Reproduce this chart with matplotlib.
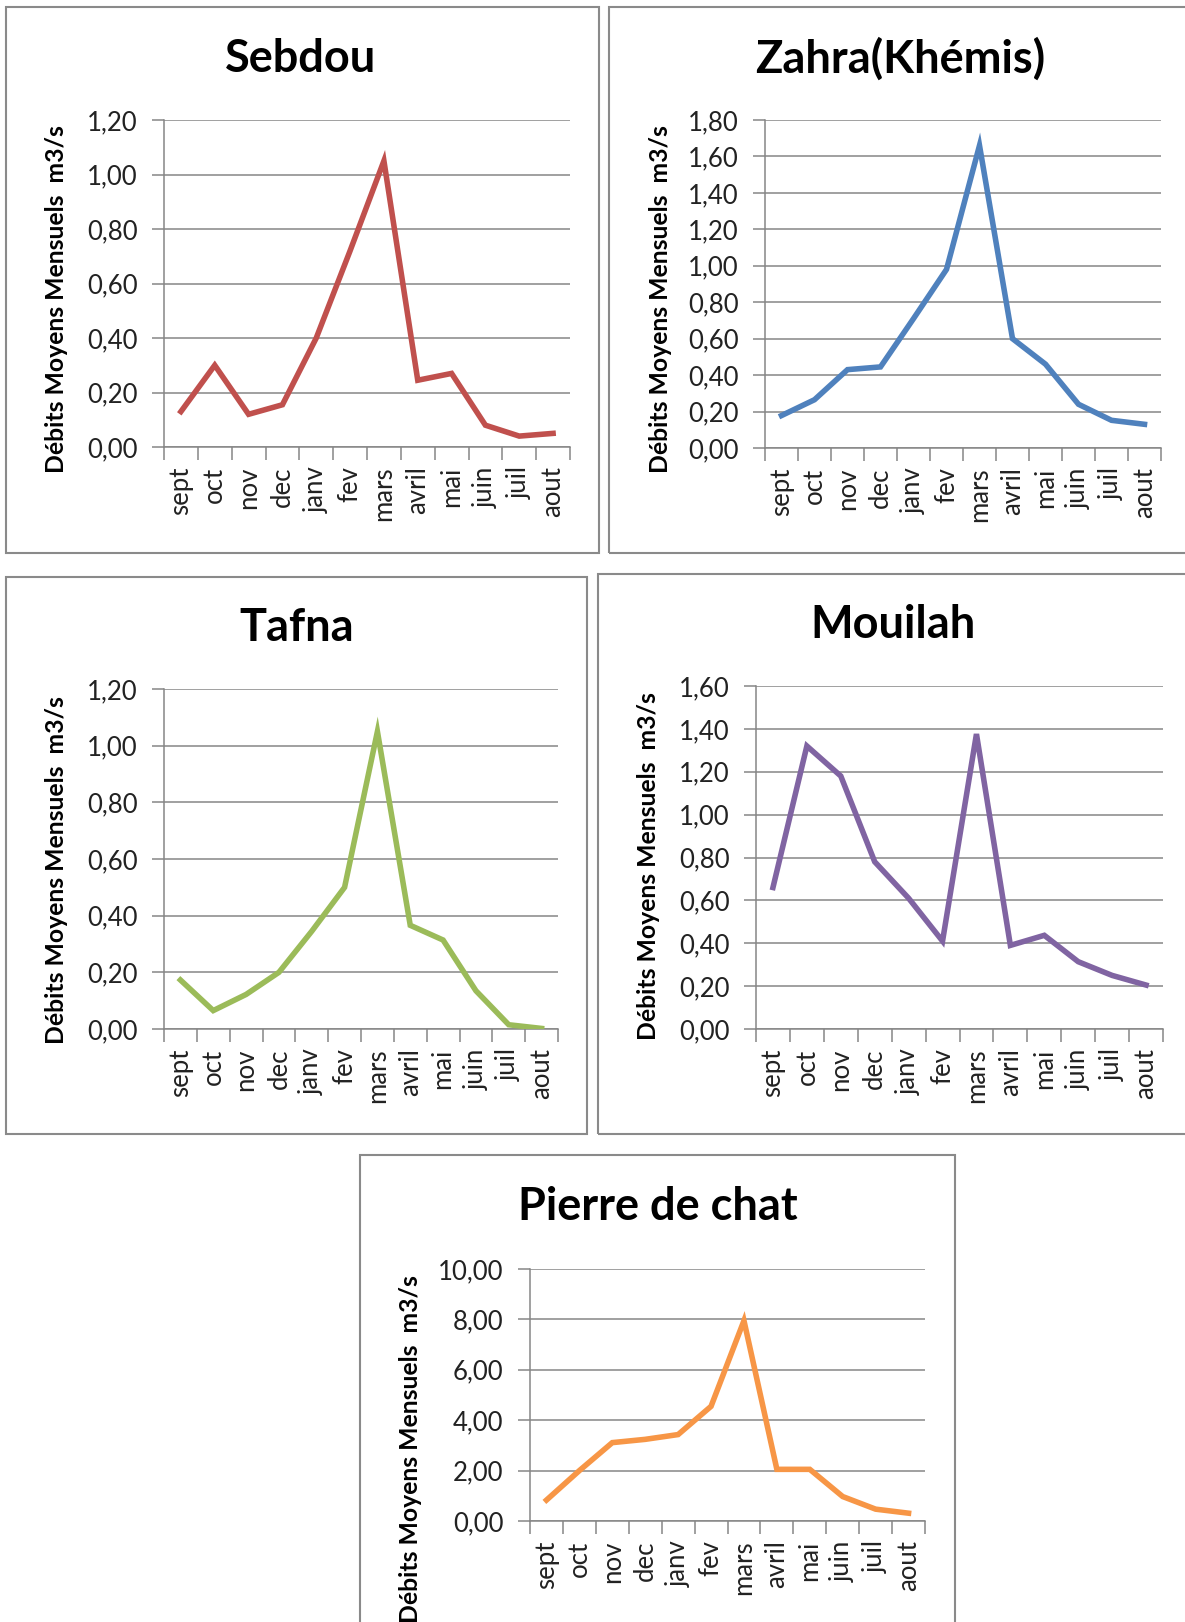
import matplotlib
matplotlib.use("Agg")
import matplotlib.pyplot as plt
from matplotlib.patches import Rectangle
from matplotlib.ticker import FuncFormatter, FixedLocator

plt.rcParams['font.family'] = ['Lato', 'DejaVu Sans']

months = ["sept", "oct", "nov", "dec", "janv", "fev", "mars", "avril", "mai", "juin", "juil", "aout"]

sebdou = [0.13, 0.30, 0.12, 0.155, 0.40, 0.72, 1.05, 0.245, 0.27, 0.08, 0.04, 0.05]
zahra = [0.178, 0.265, 0.43, 0.445, 0.71, 0.98, 1.66, 0.60, 0.46, 0.24, 0.152, 0.13]
tafna = [0.173, 0.065, 0.122, 0.20, 0.345, 0.50, 1.05, 0.366, 0.314, 0.135, 0.015, 0.002]
mouilah = [0.66, 1.32, 1.18, 0.78, 0.61, 0.41, 1.376, 0.39, 0.437, 0.314, 0.25, 0.205]
pierre = [0.83, 2.0, 3.11, 3.24, 3.43, 4.55, 7.95, 2.05, 2.05, 0.97, 0.47, 0.31]

titles = ["Sebdou", "Zahra(Khémis)", "Tafna", "Mouilah", "Pierre de chat"]
series = [sebdou, zahra, tafna, mouilah, pierre]
colors = ["#C0504D", "#4F81BD", "#9BBB59", "#8064A2", "#F79646"]
ymax = [1.20, 1.80, 1.20, 1.60, 10.0]
ystep = [0.20, 0.20, 0.20, 0.20, 2.0]
ylabel = "Débits Moyens Mensuels  m3/s"

W, H = 1185, 1622
fig = plt.figure(figsize=(W / 100, H / 100), dpi=100)

def fx(x):
    return x / W

def fy(y):
    return 1 - y / H

# panel boxes (pixels: x0, y0, x1, y1)
boxes = [(6, 7, 599, 553), (609, 7, 1190, 553), (6, 577, 587, 1134), (598, 574, 1190, 1134), (360, 1155, 955, 1700)]
# axes rectangles (pixels)
axes_px = [(164, 120, 570, 447), (765, 120, 1161, 448), (164, 689, 558, 1029), (756, 686, 1163, 1029), (530, 1269, 925, 1521)]
title_pos = [(301, 59), (900, 59), (297, 628), (893, 625), (658, 1207)]
ylab_pos = [(57, 299), (660, 299), (57, 870), (648, 866), (410, 1449)]

for b in boxes:
    x0, y0, x1, y1 = b
    fig.patches.append(Rectangle((fx(x0), fy(y1)), fx(x1 - x0), (y1 - y0) / H,
                                 transform=fig.transFigure, fill=False,
                                 edgecolor="#8a8a8a", linewidth=1.5))

grid_c = "#868686"
fmt = FuncFormatter(lambda v, p: f"{v:.2f}".replace(".", ","))

for i in range(5):
    x0, y0, x1, y1 = axes_px[i]
    ax = fig.add_axes([fx(x0), fy(y1), fx(x1 - x0), (y1 - y0) / H])
    xs = list(range(len(months)))
    ax.plot(xs, series[i], color=colors[i], linewidth=4.0, solid_joinstyle="miter", zorder=3)
    ax.set_xlim(-0.5, len(months) - 0.5)
    ax.set_ylim(0, ymax[i])
    n = int(round(ymax[i] / ystep[i]))
    yt = [k * ystep[i] for k in range(n + 1)]
    ax.set_yticks(yt)
    ax.yaxis.set_major_formatter(fmt)
    ax.grid(axis="y", color=grid_c, linewidth=1.1)
    ax.set_axisbelow(True)
    ax.xaxis.set_major_locator(FixedLocator([k - 0.5 for k in range(len(months) + 1)]))
    ax.xaxis.set_minor_locator(FixedLocator(xs))
    ax.set_xticklabels([])
    ax.set_xticklabels(months, minor=True, rotation=90, fontsize=18.5, color="#222222")
    ax.tick_params(axis="x", which="major", length=9, width=1.1, color=grid_c)
    ax.tick_params(axis="x", which="minor", length=0, pad=14)
    ax.tick_params(axis="y", length=9, width=1.1, color=grid_c, labelsize=18.5, pad=10, labelcolor="#222222")
    for s in ["top", "right"]:
        ax.spines[s].set_visible(False)
    for s in ["left", "bottom"]:
        ax.spines[s].set_color(grid_c)
        ax.spines[s].set_linewidth(1.1)
    tx, ty = title_pos[i]
    fig.text(fx(tx), fy(ty), titles[i], ha="center", va="center", fontsize=32.5, fontweight="bold")
    lx, ly = ylab_pos[i]
    fig.text(fx(lx), fy(ly), ylabel, ha="center", va="center", rotation=90, fontsize=17.8, fontweight="bold")

fig.savefig("out.png", dpi=100, facecolor="white")
